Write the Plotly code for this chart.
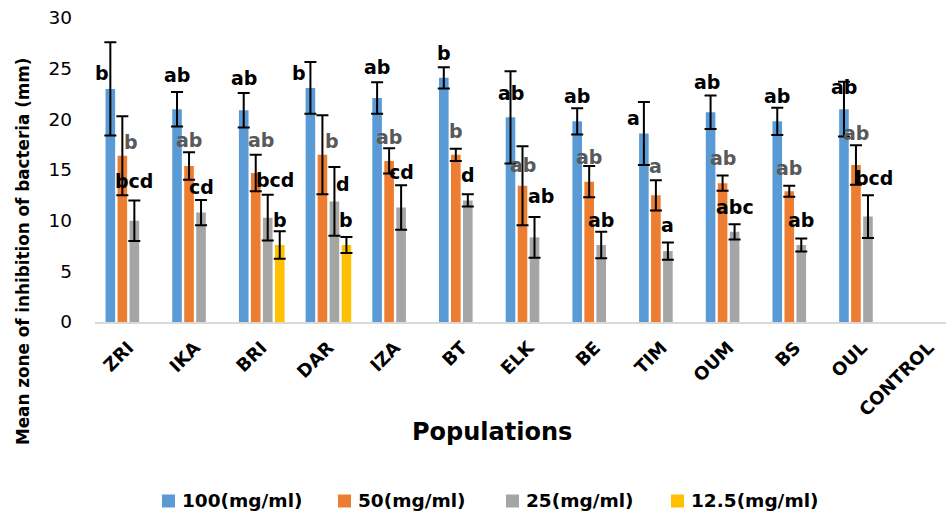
import plotly.graph_objects as go

categories = ["ZRI", "IKA", "BRI", "DAR", "IZA", "BT", "ELK", "BE", "TIM", "OUM", "BS", "OUL", "CONTROL"]
series_names = ["100(mg/ml)", "50(mg/ml)", "25(mg/ml)", "12.5(mg/ml)"]

v100 = [23.0, 21.0, 20.9, 23.1, 22.1, 24.1, 20.2, 19.8, 18.6, 20.7, 19.8, 21.0, None]
e100 = [4.6, 1.7, 1.7, 2.55, 1.55, 1.05, 4.55, 1.3, 3.1, 1.65, 1.35, 2.7, None]
v50 = [16.4, 15.4, 14.7, 16.5, 15.9, 16.5, 13.45, 13.85, 12.5, 13.7, 12.9, 15.5, None]
e50 = [3.9, 1.35, 1.8, 3.9, 1.25, 0.6, 3.9, 1.55, 1.5, 0.75, 0.55, 1.95, None]
v25 = [10.0, 10.8, 10.3, 11.9, 11.3, 12.0, 8.35, 7.6, 7.0, 8.9, 7.6, 10.4, None]
e25 = [2.0, 1.25, 2.25, 3.4, 2.2, 0.6, 2.0, 1.3, 0.85, 0.75, 0.65, 2.1, None]
v125 = [None, None, 7.6, 7.6, None, None, None, None, None, None, None, None, None]
e125 = [None, None, 1.35, 0.8, None, None, None, None, None, None, None, None, None]

l100 = ["b", "ab", "ab", "b", "ab", "b", "ab", "ab", "a", "ab", "ab", "ab", ""]
l50 = ["b", "ab", "ab", "b", "ab", "b", "ab", "ab", "a", "ab", "ab", "ab", ""]
l25 = ["bcd", "cd", "bcd", "d", "cd", "d", "ab", "ab", "a", "abc", "ab", "bcd", ""]
l125 = ["", "", "b", "b", "", "", "", "", "", "", "", "", ""]

y_ticks = [0, 5, 10, 15, 20, 25, 30]

values = [v100, v50, v25, v125]
errors = [e100, e50, e25, e125]
letters = [l100, l50, l25, l125]
colors = ["#5B9BD5", "#ED7D31", "#A5A5A5", "#FFC000"]
label_colors = ["#000000", "#595959", "#000000", "#000000"]

# label placement tweaks (pixels) relative to the top of each error bar
lab_dx = [
    [-8.5, 0, 0, -11, 0, 0, 0, 0, -10, -4, 0, 0, 0],
    [8.5, 0, 5.5, 9.5, 0, 0, 0, 0, 0, 0, 0, 0, 0],
    [0, 0, 7, 9, 0, 0, 6, 0, 0, 0, 0, 6, 0],
    [0, 0, 0, 0, 0, 0, 0, 0, 0, 0, 0, 0, 0],
]
lab_dy = [
    [-31, 17, 15, -11, 15, 14, -22, 12, -16, 14, 12, -5, 0],
    [-26, 12, 15, -26, 11, 18, -19, 9, 14, 18, 18, 12, 0],
    [19, 13, 15, -17, 13, 19, 21, 12, 17, 17, 18, 17, 0],
    [0, 0, 11, 17, 0, 0, 0, 0, 0, 0, 0, 0, 0],
]

FONT = "DejaVu Sans, Verdana, sans-serif"
W, H = 946, 515
ML, MR, MT, MB = 95, 0, 18, 193
PW, PH = W - ML - MR, H - MT - MB


def px2x(px):
    return (px - ML) / PW


def px2y(py):
    return (H - MB - py) / PH


fig = go.Figure()
for s in range(4):
    fig.add_trace(go.Bar(
        x=categories, y=values[s], name=series_names[s], showlegend=False,
        marker=dict(color=colors[s], line=dict(width=0)),
        error_y=dict(type="data", array=errors[s], visible=True,
                     color="black", thickness=2, width=6),
    ))

slot = 12.0
annotations = []
for s in range(4):
    for i, c in enumerate(categories):
        txt = letters[s][i]
        if not txt or values[s][i] is None:
            continue
        annotations.append(dict(
            x=c, y=values[s][i] + errors[s][i], xref="x", yref="y",
            text="<b>%s</b>" % txt, showarrow=False,
            xanchor="center", yanchor="middle",
            xshift=(s - 1.5) * slot + lab_dx[s][i], yshift=lab_dy[s][i],
            font=dict(family=FONT, size=19, color=label_colors[s]),
        ))

annotations.append(dict(
    text="<b>Mean zone of inhibition of bacteria (mm)</b>", textangle=-90,
    xref="paper", yref="paper", x=px2x(23), y=px2y(252), showarrow=False,
    xanchor="center", yanchor="middle",
    font=dict(family=FONT, size=16.8, color="black"),
))
annotations.append(dict(
    text="<b>Populations</b>", xref="paper", yref="paper", x=px2x(492), y=px2y(432),
    showarrow=False, xanchor="center", yanchor="middle",
    font=dict(family=FONT, size=24, color="black"),
))

# custom legend (square swatch + text)
legend_left = [162, 338, 506, 671]
legend_cy = 501
shapes = []
for s in range(4):
    x0 = legend_left[s]
    shapes.append(dict(type="rect", xref="paper", yref="paper",
                       x0=px2x(x0), x1=px2x(x0 + 13), y0=px2y(legend_cy + 6.5), y1=px2y(legend_cy - 6.5),
                       fillcolor=colors[s], line=dict(width=0)))
    annotations.append(dict(
        text="<b>%s</b>" % series_names[s], xref="paper", yref="paper",
        x=px2x(x0 + 18), y=px2y(legend_cy), showarrow=False,
        xanchor="left", yanchor="middle",
        font=dict(family=FONT, size=18.5, color="black"),
    ))

fig.update_layout(
    width=W, height=H,
    margin=dict(l=ML, r=MR, t=MT, b=MB, pad=0),
    paper_bgcolor="white", plot_bgcolor="white",
    barmode="group", bargap=0.28, bargroupgap=0.2,
    font=dict(family=FONT, color="black"),
    showlegend=False,
    annotations=annotations,
    shapes=shapes,
)
fig.update_xaxes(
    type="category", range=[-0.5, 12.26], automargin=False,
    showline=True, linecolor="#D9D9D9", linewidth=2,
    showgrid=False, ticks="", tickangle=-45, ticklabelstandoff=6,
    tickfont=dict(family=FONT, size=18, color="black"),
    tickprefix="<b>", ticksuffix="</b>",
)
fig.update_yaxes(
    range=[0, 30], tickvals=y_ticks, automargin=False,
    showgrid=False, showline=False,
    zeroline=False, ticks="", ticklabelstandoff=22,
    tickfont=dict(family=FONT, size=18.5, color="black"),
    tickprefix="<b>", ticksuffix="</b>",
)

fig.write_html(
    "out.html",
    config={"displayModeBar": False},
    post_script="document.body.style.margin='0px';document.body.style.overflow='hidden';",
)
